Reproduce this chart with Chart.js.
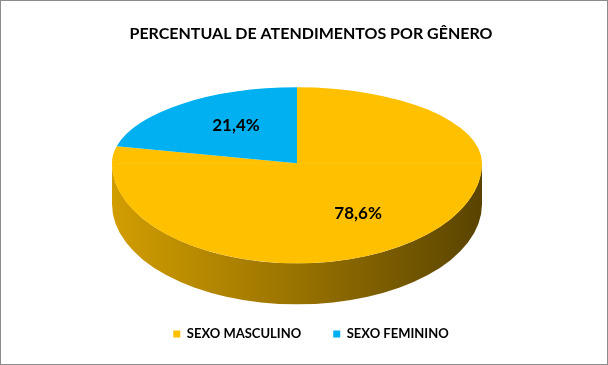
<!DOCTYPE html>
<html>
<head>
<meta charset="utf-8">
<script src="https://cdn.jsdelivr.net/npm/chart.js@4/dist/chart.umd.min.js"></script>
<style>
  html, body { margin: 0; padding: 0; background: #fff; }
  #box { width: 606px; height: 363px; border: 1px solid #8c8c8c; position: relative; }
</style>
</head>
<body>
<div id="box"><canvas id="chartGenero"></canvas></div>
<script>
/***** DADOS *****/
const categorias  = ["SEXO MASCULINO", "SEXO FEMININO"];
const percentuais = [78.6, 21.4];
const cores       = ["#FFC000", "#00B0F0"];
const titulo      = "PERCENTUAL DE ATENDIMENTOS POR GÊNERO";

/***** ESTILO 3D *****/
const FONTE  = "Lato, 'Open Sans', sans-serif";
const PIZZA3D = {
  rx: 185,        // raio horizontal da face de cima
  ryTras: 76,     // metade de trás (perspectiva)
  ryFrente: 100,  // metade da frente
  altura: 41,     // espessura da lateral
  dx: -14, dy: -11 // desloca o corpo 3D em relação ao centro da pizza
};

const fmtPct = v => v.toFixed(1).replace(".", ",") + "%";

// escurece uma cor hex por um fator
function escurecer(hex, f){
  const n = parseInt(hex.slice(1), 16);
  const r = Math.round(((n >> 16) & 255) * f);
  const g = Math.round(((n >> 8) & 255) * f);
  const b = Math.round((n & 255) * f);
  return `rgb(${r},${g},${b})`;
}

/***** PLUGIN: pizza com perspectiva *****/
const pizza3d = {
  id: "pizza3d",
  beforeDatasetsDraw(chart){
    const arcs = chart.getDatasetMeta(0).data;
    if (!arcs.length) return false;
    const ctx = chart.ctx;
    const r  = arcs[0].outerRadius;
    const cx = arcs[0].x, cy = arcs[0].y;
    const X0 = cx + PIZZA3D.dx, Y0 = cy + PIZZA3D.dy;
    const P = PIZZA3D;

    // lateral (só a metade da frente aparece)
    arcs.forEach((a, i) => {
      const lo = Math.max(a.startAngle, 0);
      const hi = Math.min(a.endAngle, Math.PI);
      if (hi <= lo) return;
      const g = ctx.createLinearGradient(X0 - P.rx, 0, X0 + P.rx, 0);
      g.addColorStop(0, escurecer(cores[i], 0.82));
      g.addColorStop(0.5, escurecer(cores[i], 0.6));
      g.addColorStop(1, escurecer(cores[i], 0.35));
      ctx.save();
      ctx.beginPath();
      ctx.ellipse(X0, Y0, P.rx, P.ryFrente, 0, lo, hi);
      ctx.ellipse(X0, Y0 + P.altura, P.rx, P.ryFrente, 0, hi, lo, true);
      ctx.closePath();
      ctx.fillStyle = g;
      ctx.fill();
      ctx.restore();
    });

    // face de cima: duas metades com escala vertical diferente
    const metades = [
      { sy: P.ryTras / r,   clip: [0, 0, chart.width, Y0 + 0.5] },
      { sy: P.ryFrente / r, clip: [0, Y0, chart.width, chart.height - Y0] }
    ];
    const sx = P.rx / r;
    metades.forEach(m => {
      ctx.save();
      ctx.beginPath();
      ctx.rect(...m.clip);
      ctx.clip();
      ctx.translate(X0, Y0);
      ctx.scale(sx, m.sy);
      ctx.translate(-cx, -cy);
      arcs.forEach(a => a.draw(ctx));
      ctx.restore();
    });

    // rótulos de dados
    ctx.save();
    ctx.font = `bold 17px ${FONTE}`;
    ctx.fillStyle = "#000";
    ctx.textAlign = "center";
    ctx.textBaseline = "middle";
    arcs.forEach((a, i) => {
      const mid = (a.startAngle + a.endAngle) / 2;
      const s = Math.sin(mid);
      const px = X0 + Math.cos(mid) * P.rx * 0.53;
      const py = Y0 + s * (s < 0 ? P.ryTras : P.ryFrente) * 0.64;
      ctx.fillText(fmtPct(percentuais[i]), px, py);
    });
    ctx.restore();
    return false;
  }
};

/***** GRÁFICO *****/
new Chart(document.getElementById("chartGenero"), {
  type: "pie",
  data: {
    labels: categorias,
    datasets: [{
      data: percentuais,
      backgroundColor: cores,
      borderWidth: 0
    }]
  },
  options: {
    responsive: true,
    maintainAspectRatio: false,
    animation: false,
    layout: { padding: { left: 14, bottom: 13.5 } },
    plugins: {
      title: {
        display: true,
        text: titulo,
        color: "#000",
        font: { family: FONTE, size: 16, weight: "bold" },
        padding: { top: 23, bottom: 10 }
      },
      legend: {
        position: "bottom",
        labels: {
          color: "#000",
          boxWidth: 7,
          boxHeight: 7,
          padding: 32,
          font: { family: FONTE, size: 13, weight: "bold" }
        }
      },
      tooltip: { enabled: false }
    }
  },
  plugins: [pizza3d]
});
</script>
</body>
</html>
